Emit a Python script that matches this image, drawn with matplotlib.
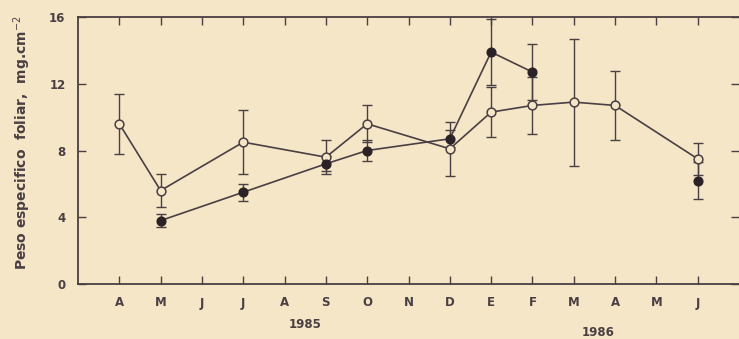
import matplotlib.pyplot as plt
import matplotlib.transforms as mtransforms

# month positions: 0 = March 1985, 1 = April 1985 ... 15 = June 1986
month_pos = list(range(1, 16))
month_labels = ["A", "M", "J", "J", "A", "S", "O", "N", "D",
                "E", "F", "M", "A", "M", "J"]

# open circles
open_x = [1, 2, 4, 6, 7, 9, 10, 11, 12, 13, 15]
open_y = [9.6, 5.6, 8.5, 7.6, 9.6, 8.1, 10.3, 10.7, 10.9, 10.7, 7.5]
open_err = [1.8, 1.0, 1.9, 1.0, 1.1, 1.6, 1.5, 1.7, 3.8, 2.05, 0.95]

# filled circles (last point not joined to the rest)
filled_x = [2, 4, 6, 7, 9, 10, 11, 15]
filled_y = [3.8, 5.5, 7.2, 8.0, 8.7, 13.9, 12.7, 6.2]
filled_err = [0.4, 0.5, 0.45, 0.65, 0.5, 2.0, 1.7, 1.1]

y_ticks = [0, 4, 8, 12, 16]

bg = "#f4e6c7"
ink = "#4a3f42"

fig = plt.figure(figsize=(7.39, 3.39), dpi=100, facecolor=bg)
ax = fig.add_axes([78 / 739, 55 / 339, 1 - 78 / 739, 267 / 339])
ax.set_facecolor(bg)

# error bars
ax.errorbar(open_x, open_y, yerr=open_err, fmt="none", ecolor=ink,
            elinewidth=1.0, capsize=3.5, capthick=1.0, zorder=2)
ax.errorbar(filled_x, filled_y, yerr=filled_err, fmt="none", ecolor=ink,
            elinewidth=1.0, capsize=3.5, capthick=1.0, zorder=2)

# connecting lines
ax.plot(open_x, open_y, color=ink, lw=1.2, zorder=3)
ax.plot(filled_x[:-1], filled_y[:-1], color=ink, lw=1.2, zorder=3)

# markers
ax.plot(open_x, open_y, "o", ms=6.3, mfc=bg, mec=ink, mew=1.1, zorder=4)
ax.plot(filled_x, filled_y, "o", ms=6.3, mfc="#2a2226", mec="#2a2226", zorder=4)

ax.set_xlim(0, 16)
ax.set_ylim(0, 16)

ax.set_xticks(month_pos)
ax.set_xticklabels(month_labels)
ax.set_yticks(y_ticks)
ax.set_yticklabels([str(v) for v in y_ticks])

for side in ["left", "top", "bottom"]:
    ax.spines[side].set_color(ink)
    ax.spines[side].set_linewidth(1.3)
ax.spines["right"].set_visible(False)

ax.tick_params(axis="both", direction="in", length=6, width=1.0, color=ink,
               labelcolor=ink, labelsize=8.5)
ax.tick_params(axis="x", top=True, pad=9)
ax.tick_params(axis="y", right=True, pad=9)
for lab in ax.get_xticklabels() + ax.get_yticklabels():
    lab.set_fontweight("bold")

# year labels under the month axis
trans = mtransforms.blended_transform_factory(ax.transData, ax.transAxes)
ax.text(5.5, -0.15, "1985", transform=trans, ha="center", va="center",
        fontsize=8.5, fontweight="bold", color=ink)
ax.text(12.6, -0.18, "1986", transform=trans, ha="center", va="center",
        fontsize=8.5, fontweight="bold", color=ink)

fig.text(22 / 739, 1 - 143 / 339, "Peso especifico  foliar,  mg.cm$^{-2}$",
         rotation=90, ha="center", va="center", fontsize=10,
         fontweight="bold", color=ink)

fig.savefig("out.png", dpi=100, facecolor=bg)
